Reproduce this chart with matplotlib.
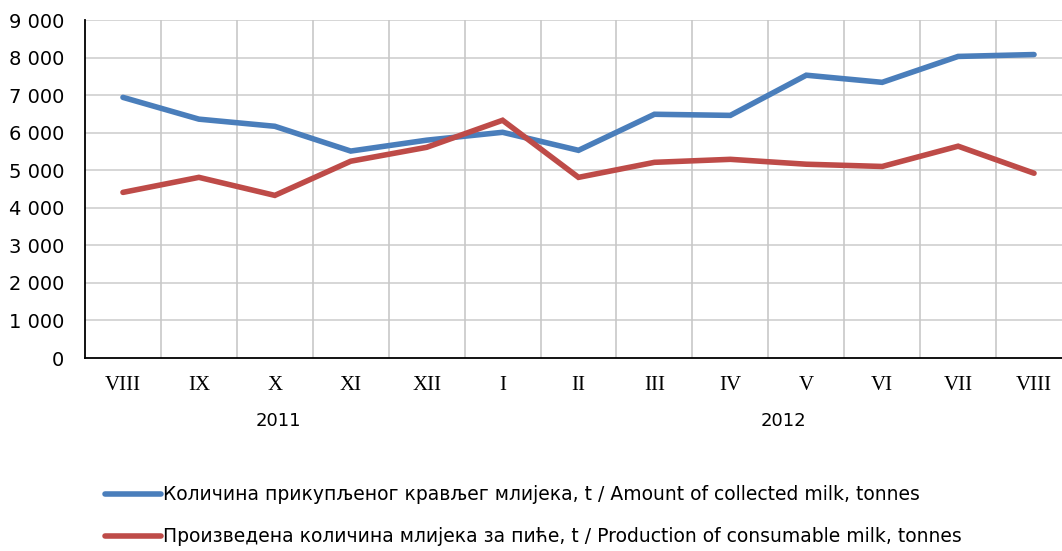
import matplotlib
matplotlib.use("Agg")
import matplotlib.pyplot as plt

months = ["VIII", "IX", "X", "XI", "XII", "I", "II", "III", "IV", "V", "VI", "VII", "VIII"]
years = ["2011", "2012"]
collected = [6940, 6360, 6170, 5510, 5800, 6010, 5530, 6490, 6460, 7530, 7340, 8030, 8080]
consumable = [4410, 4810, 4330, 5240, 5610, 6330, 4810, 5210, 5290, 5160, 5100, 5640, 4920]
label_collected = "Количина прикупљеног крављег млијека, t / Amount of collected milk, tonnes"
label_consumable = "Произведена количина млијека за пиће, t / Production of consumable milk, tonnes"

fig = plt.figure(figsize=(10.62, 5.51), dpi=100)
ax = fig.add_axes([85/1062, 1-358/551, (1072-85)/1062, (358-20)/551])

x = list(range(len(months)))
l1, = ax.plot(x, collected, color="#4a7ebb", lw=4.0, solid_capstyle="round", solid_joinstyle="miter", label=label_collected, zorder=3)
l2, = ax.plot(x, consumable, color="#be4b48", lw=4.0, solid_capstyle="round", solid_joinstyle="miter", label=label_consumable, zorder=3)

ax.set_xlim(-0.5, len(months)-0.5)
ax.set_ylim(0, 9000)
ax.set_yticks(range(0, 9001, 1000))
ax.set_yticklabels([f"{v:,}".replace(",", " ") for v in range(0, 9001, 1000)], fontsize=14, family="DejaVu Sans")
ax.set_xticks(x)
ax.set_xticklabels(months, fontsize=15, family="Liberation Serif")
ax.tick_params(axis="both", length=0)
ax.tick_params(axis="x", pad=13)
ax.tick_params(axis="y", pad=15)

for v in range(1000, 9001, 1000):
    ax.axhline(v, color="#d0d0d0", lw=1.2, zorder=1)
for b in range(1, len(months)+1):
    ax.axvline(b-0.5, color="#c8c8c8", lw=1.2, zorder=1)

for s in ["top", "right"]:
    ax.spines[s].set_visible(False)
ax.spines["left"].set_color("black")
ax.spines["bottom"].set_color("black")
ax.spines["left"].set_linewidth(1.3)
ax.spines["bottom"].set_linewidth(1.3)

ax.text(2.05, -0.185, years[0], transform=ax.get_xaxis_transform(), ha="center", va="center", fontsize=13, family="DejaVu Sans")
ax.text(8.7, -0.185, years[1], transform=ax.get_xaxis_transform(), ha="center", va="center", fontsize=13, family="DejaVu Sans")

fig.legend(handles=[l1, l2], loc="upper left", bbox_to_anchor=(97/1062, 1-478/551), frameon=False,
           prop={"family": "DejaVu Sans", "size": 13.5}, handlelength=3.0, handletextpad=0.1,
           labelspacing=1.22, borderaxespad=0)

fig.savefig("out.png", dpi=100)
